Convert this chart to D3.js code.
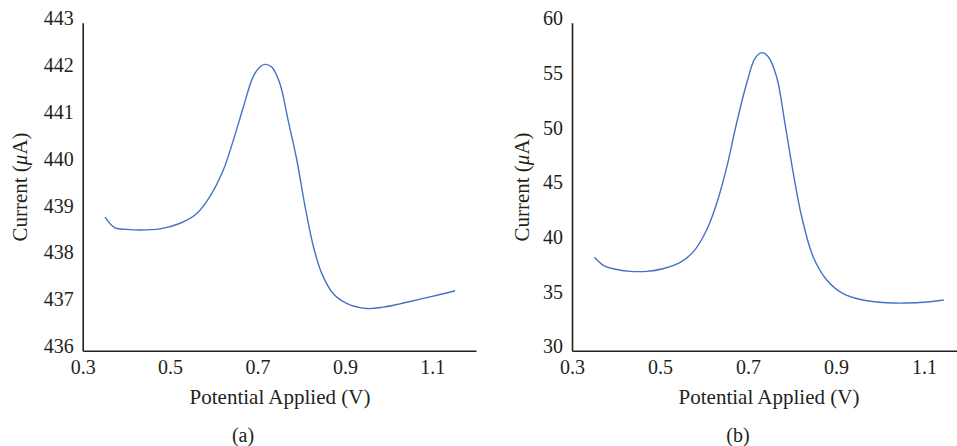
<!DOCTYPE html>
<html>
<head>
<meta charset="utf-8">
<script src="https://cdn.jsdelivr.net/npm/d3@7"></script>
<style>
  body { margin: 0; background: #fff; }
  svg text { font-family: "Liberation Serif", "DejaVu Serif", serif; fill: #231f20; }
</style>
</head>
<body>
<div id="chart"></div>
<script>
// Panel (a) readings
const potentialA = [0.351, 0.374, 0.400, 0.431, 0.477, 0.523, 0.561, 0.591, 0.622, 0.645, 0.668, 0.690, 0.706, 0.717, 0.732, 0.751, 0.770, 0.790, 0.809, 0.828, 0.847, 0.873, 0.904, 0.950, 0.988, 1.026, 1.072, 1.118, 1.152];
const currentA = [438.85, 438.62, 438.59, 438.575, 438.60, 438.72, 438.93, 439.29, 439.86, 440.50, 441.21, 441.85, 442.06, 442.11, 442.06, 441.71, 440.92, 440.07, 439.07, 438.22, 437.65, 437.22, 437.01, 436.90, 436.93, 437.00, 437.10, 437.20, 437.28];

// Panel (b) readings
const potentialB = [0.351, 0.373, 0.394, 0.432, 0.470, 0.507, 0.545, 0.576, 0.606, 0.629, 0.652, 0.674, 0.697, 0.716, 0.731, 0.746, 0.765, 0.784, 0.803, 0.822, 0.848, 0.879, 0.915, 0.961, 1.015, 1.060, 1.106, 1.145];
const currentB = [38.54, 37.75, 37.50, 37.26, 37.26, 37.50, 38.05, 39.06, 41.04, 43.48, 46.83, 50.80, 54.46, 56.74, 57.26, 56.89, 55.06, 50.80, 46.23, 42.26, 38.60, 36.47, 35.25, 34.64, 34.39, 34.36, 34.45, 34.64];

const xTicks = [0.3, 0.5, 0.7, 0.9, 1.1];
const yTicksA = [436, 437, 438, 439, 440, 441, 442, 443];
const yTicksB = [30, 35, 40, 45, 50, 55, 60];

const width = 957, height = 446;

const svg = d3.select("#chart").append("svg")
    .attr("width", width)
    .attr("height", height);

// draw one panel
function drawPanel(opts) {
    const x = d3.scaleLinear().domain([0.3, 1.2]).range([opts.left, opts.right]);
    const y = d3.scaleLinear().domain(opts.yDomain).range([350.7, 22.7]);

    const g = svg.append("g");

    // x axis
    const xAxis = g.append("g")
        .attr("transform", `translate(0,${y.range()[0]})`)
        .call(d3.axisBottom(x).tickValues(xTicks).tickSize(0).tickPadding(9).tickFormat(d3.format(".1f")));
    xAxis.select(".domain").attr("stroke", "#231f20").attr("stroke-width", 1.6);
    xAxis.selectAll("text").style("font-size", "20px");

    // y axis
    const yAxis = g.append("g")
        .attr("transform", `translate(${opts.left},0)`)
        .call(d3.axisLeft(y).tickValues(opts.yTicks).tickSize(0).tickPadding(9).tickFormat(d3.format("d")));
    yAxis.select(".domain").attr("stroke", "#231f20").attr("stroke-width", 1.6);
    yAxis.selectAll("text").style("font-size", "20px").attr("dy", "0.1em");

    // line
    const pts = opts.xs.map((d, i) => [d, opts.ys[i]]);
    g.append("path")
        .datum(pts)
        .attr("fill", "none")
        .attr("stroke", "#4472c4")
        .attr("stroke-width", 1.4)
        .attr("d", d3.line().x(d => x(d[0])).y(d => y(d[1])).curve(d3.curveCatmullRom.alpha(0.5)));

    // axis titles
    g.append("text")
        .attr("x", opts.xLabelX)
        .attr("y", 404)
        .attr("text-anchor", "middle")
        .style("font-size", "21px")
        .text("Potential Applied (V)");

    const yl = g.append("text")
        .attr("transform", `translate(${opts.yLabelX},187) rotate(-90)`)
        .attr("text-anchor", "middle")
        .style("font-size", "21px");
    yl.append("tspan").text("Current (");
    yl.append("tspan").style("font-style", "italic").text("\u03bc");
    yl.append("tspan").text("A)");

    g.append("text")
        .attr("x", opts.tagX)
        .attr("y", 442)
        .attr("text-anchor", "middle")
        .style("font-size", "20px")
        .text(opts.tag);
}

drawPanel({
    left: 82.7, right: 476, yDomain: [436, 443], yTicks: yTicksA,
    xs: potentialA, ys: currentA,
    xLabelX: 280, yLabelX: 27, tagX: 243, tag: "(a)"
});

drawPanel({
    left: 572, right: 968, yDomain: [30, 60], yTicks: yTicksB,
    xs: potentialB, ys: currentB,
    xLabelX: 769, yLabelX: 529, tagX: 738, tag: "(b)"
});
</script>
</body>
</html>
